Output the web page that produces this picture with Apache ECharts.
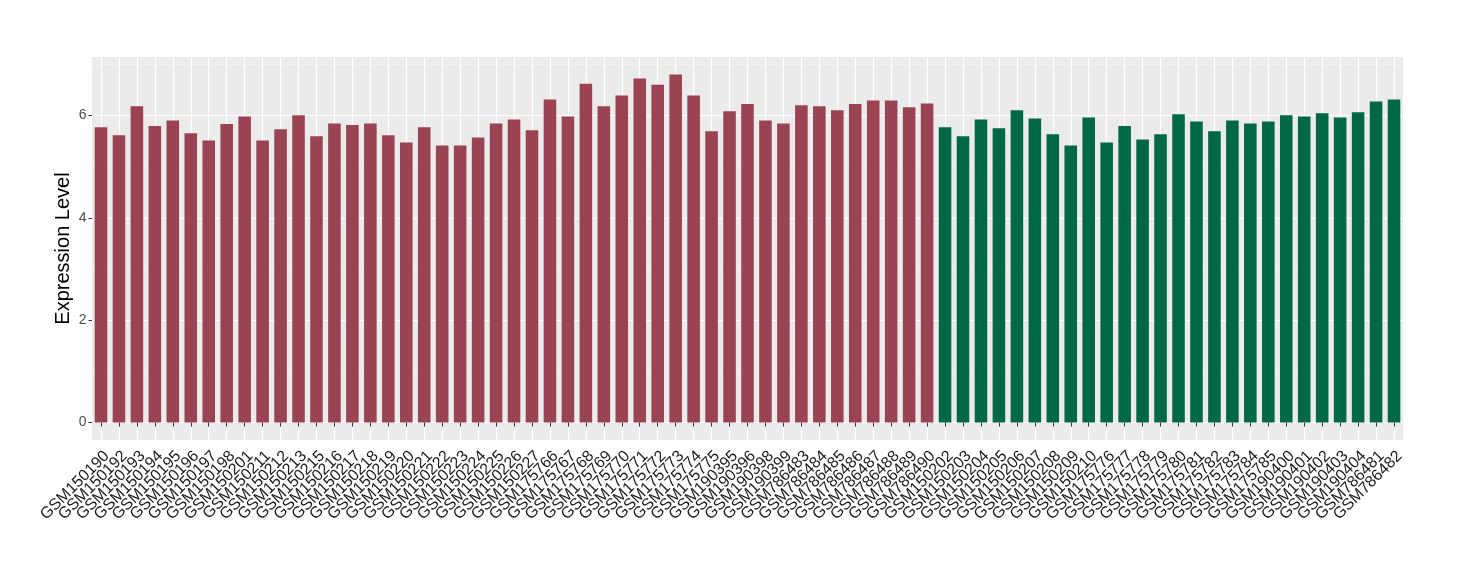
<!DOCTYPE html>
<html>
<head>
<meta charset="utf-8">
<script src="https://cdn.jsdelivr.net/npm/echarts@6/dist/echarts.min.js"></script>
<style>
html,body{margin:0;padding:0;background:#fff;}
#chart{width:1460px;height:580px;}
</style>
</head>
<body>
<div id="chart"></div>
<script>
// ---- data ----
const categories = [
  "GSM150190","GSM150192","GSM150193","GSM150194","GSM150195","GSM150196","GSM150197","GSM150198","GSM150201","GSM150211",
  "GSM150212","GSM150213","GSM150215","GSM150216","GSM150217","GSM150218","GSM150219","GSM150220","GSM150221","GSM150222",
  "GSM150223","GSM150224","GSM150225","GSM150226","GSM150227","GSM175766","GSM175767","GSM175768","GSM175769","GSM175770",
  "GSM175771","GSM175772","GSM175773","GSM175774","GSM175775","GSM190395","GSM190396","GSM190398","GSM190399","GSM786483",
  "GSM786484","GSM786485","GSM786486","GSM786487","GSM786488","GSM786489","GSM786490",
  "GSM150202","GSM150203","GSM150204","GSM150205","GSM150206","GSM150207","GSM150208","GSM150209","GSM150210",
  "GSM175776","GSM175777","GSM175778","GSM175779","GSM175780","GSM175781","GSM175782","GSM175783","GSM175784","GSM175785",
  "GSM190400","GSM190401","GSM190402","GSM190403","GSM190404","GSM786481","GSM786482"
];
const values = [
  5.77,5.61,6.18,5.79,5.90,5.65,5.51,5.83,5.98,5.51,
  5.73,6.00,5.59,5.84,5.81,5.84,5.61,5.47,5.77,5.41,
  5.41,5.57,5.84,5.92,5.71,6.31,5.98,6.62,6.18,6.39,
  6.72,6.60,6.80,6.39,5.69,6.08,6.22,5.90,5.84,6.20,
  6.18,6.10,6.22,6.29,6.29,6.16,6.23,
  5.77,5.59,5.92,5.75,6.10,5.94,5.63,5.41,5.96,
  5.47,5.79,5.53,5.63,6.02,5.88,5.69,5.90,5.84,5.88,
  6.00,5.98,6.04,5.96,6.06,6.27,6.31
];
const groupSizes = [47, 26];
const groupColors = ["#9A4352", "#006846"];
const yTickValues = [0, 2, 4, 6];
const yMinorValues = [1, 3, 5, 7];

// ---- build ----
const groupOf = [];
groupSizes.forEach((n, g) => { for (let i = 0; i < n; i++) groupOf.push(g); });
const barData = values.map((v, i) => ({ value: v, itemStyle: { color: groupColors[groupOf[i]] } }));

const chart = echarts.init(document.getElementById('chart'), null, { renderer: 'canvas' });
const font = "'Liberation Sans', Arial, Helvetica, sans-serif";
chart.setOption({
  animation: false,
  backgroundColor: '#ffffff',
  grid: {
    left: 92, right: 57, top: 57, bottom: 140,
    show: true, backgroundColor: '#EBEBEB', borderWidth: 0
  },
  xAxis: {
    type: 'category',
    data: categories,
    boundaryGap: true,
    axisLine: { show: false },
    axisTick: { show: true, alignWithLabel: true, length: 4, lineStyle: { color: '#333333', width: 1 } },
    splitLine: { show: true, alignWithLabel: true, lineStyle: { color: '#FFFFFF', width: 1.2 } },
    axisLabel: {
      interval: 0, rotate: 45, margin: 8, verticalAlign: 'top',
      fontFamily: font, fontSize: 16, color: '#1A1A1A'
    }
  },
  yAxis: {
    type: 'value',
    min: -0.34, max: 7.14,
    name: 'Expression Level',
    nameLocation: 'middle',
    nameMoveOverlap: false,
    nameGap: 19,
    nameTextStyle: { fontFamily: font, fontSize: 20, color: '#000000' },
    axisLine: { show: false },
    axisTick: { show: true, length: 3.5, customValues: yTickValues, lineStyle: { color: '#333333', width: 1 } },
    axisLabel: { customValues: yTickValues, margin: 5.5, fontFamily: font, fontSize: 14, color: '#4D4D4D' },
    splitLine: { show: true, lineStyle: { color: '#FFFFFF', width: 1.2 } }
  },
  series: [{
    type: 'bar',
    data: barData,
    barWidth: '70%',
    markLine: {
      z: 1,
      silent: true,
      symbol: ['none', 'none'],
      label: { show: false },
      lineStyle: { color: '#F7F7F7', width: 0.6, type: 'solid' },
      emphasis: { disabled: true },
      data: yMinorValues.map(v => ({ yAxis: v }))
    }
  }]
});
</script>
</body>
</html>
